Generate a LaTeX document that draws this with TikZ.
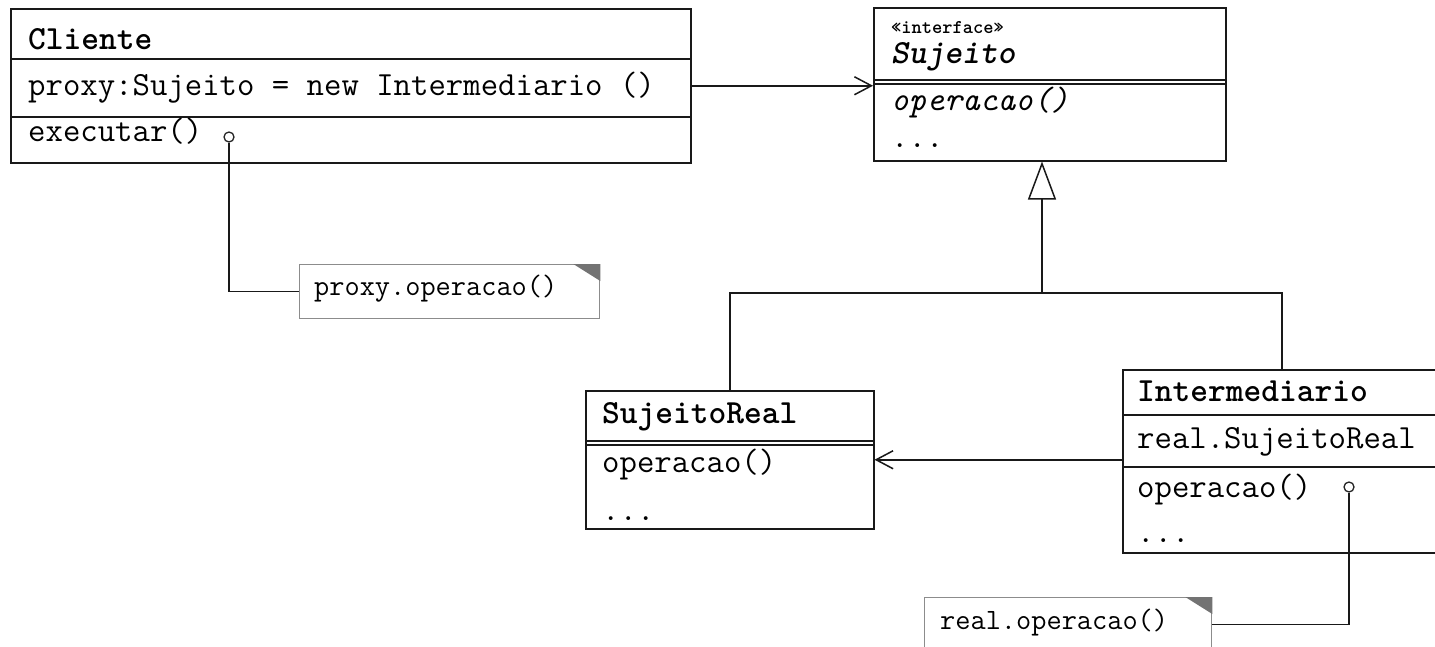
\documentclass[tikz,border=0pt]{standalone}
\usepackage{fontspec}
\usetikzlibrary{arrows.meta,calc}
\tikzset{
  cls/.style={draw=black!90, line width=1.5pt, fill=white, inner sep=0pt, anchor=north west},
  divider/.style={draw=black!90, line width=1.5pt},
  lbl/.style={inner sep=0pt, anchor=base west, font=\ttfamily\fontsize{33.8pt}{34pt}\selectfont},
  clsname/.style={lbl, font=\ttfamily\bfseries\fontsize{33.8pt}{34pt}\selectfont},
  stereo/.style={lbl, font=\ttfamily\bfseries\fontsize{19.5pt}{20pt}\selectfont},
  notetxt/.style={lbl, font=\ttfamily\fontsize{29.5pt}{30pt}\selectfont},
  notebox/.style={draw=black!45, line width=1.3pt, fill=white, inner sep=0pt, anchor=north west},
  fold/.style={fill=black!55},
  port/.style={circle, draw=black!85, line width=1.3pt, fill=white, minimum size=10pt, inner sep=0pt},
  wire/.style={draw=black!90, line width=1.5pt},
  assoc/.style={wire, -{Straight Barb[length=17pt, width=18pt, line width=1.5pt]}},
  gen/.style={wire, -{Triangle[open, length=38pt, width=28pt, line width=1.5pt]}},
}
\begin{document}
\begin{tikzpicture}[x=1pt, y=-1pt]
\useasboundingbox (0,0) rectangle (1435,646);
\fill[white] (0,0) rectangle (1435,646);

% Cliente class
\node[cls, minimum width=680pt, minimum height=154pt] (cli) at (10,8) {};
\draw[divider] (cli.west |- 0,59) -- (cli.east |- 0,59);
\draw[divider] (cli.west |- 0,117) -- (cli.east |- 0,117);
\node[clsname] (cliN) at (28,49) {Cliente};
\node[lbl] (cliA) at (28,95) {proxy:Sujeito = new Intermediario ()};
\node[lbl] (cliM) at (28,141) {executar()};

% Sujeito interface
\node[cls, minimum width=352pt, minimum height=153pt] (suj) at (873,7) {};
\draw[divider] (suj.west |- 0,80) -- (suj.east |- 0,80);
\draw[divider] (suj.west |- 0,84) -- (suj.east |- 0,84);
\node[stereo] (sujS) at (891,33) {«interface»};
\node[lbl, font=\ttfamily\bfseries\itshape\fontsize{33.8pt}{34pt}\selectfont] (sujN) at (891,63) {Sujeito};
\node[lbl, font=\ttfamily\itshape\fontsize{33.8pt}{34pt}\selectfont] (sujM) at (891,110) {operacao()};
\node[lbl] (sujE) at (891,147) {...};

% SujeitoReal class
\node[cls, minimum width=288pt, minimum height=138pt] (sr) at (585,390) {};
\draw[divider] (sr.west |- 0,441) -- (sr.east |- 0,441);
\draw[divider] (sr.west |- 0,445) -- (sr.east |- 0,445);
\node[clsname] (srN) at (602,423) {SujeitoReal};
\node[lbl] (srM) at (602,472) {operacao()};
\node[lbl] (srE) at (602,520) {...};

% Intermediario class
\node[cls, minimum width=318pt, minimum height=183pt] (im) at (1122,369) {};
\draw[divider] (im.west |- 0,415) -- (im.east |- 0,415);
\draw[divider] (im.west |- 0,467) -- (im.east |- 0,467);
\node[clsname] (imN) at (1137,401) {Intermediario};
\node[lbl] (imA) at (1137,448) {real.SujeitoReal};
\node[lbl] (imM) at (1137,497) {operacao()};
\node[lbl] (imE) at (1137,542) {...};

% notes
\node[notebox, minimum width=300pt, minimum height=54pt] (n1) at (299,264) {};
\fill[fold] (n1.north east) -- ++(-27,0) -- ++(27,17) -- cycle;
\node[notetxt] (n1t) at (314,295) {proxy.operacao()};

\node[notebox, minimum width=287pt, minimum height=54pt] (n2) at (924,597) {};
\fill[fold] (n2.north east) -- ++(-27,0) -- ++(27,17) -- cycle;
\node[notetxt] (n2t) at (940,629) {real.operacao()};

% association arrows
\draw[assoc] (cli.east) -- (cli.east -| suj.west);
\draw[assoc] (sr.east -| im.west) -- (sr.east);

% generalization tree
\coordinate (gj) at (1042,293);
\coordinate (gtip) at (suj.south west -| gj);
\draw[wire] (sr.north) |- (gj) -| (im.north);
\draw[gen] (gj) -- (gtip);

% note anchors
\node[port] (p1) at (229,137) {};
\draw[wire] (p1.south) |- (n1.west);
\node[port] (p2) at (1349,487) {};
\draw[wire] (p2.south) |- (n2.east);
\end{tikzpicture}
\end{document}
